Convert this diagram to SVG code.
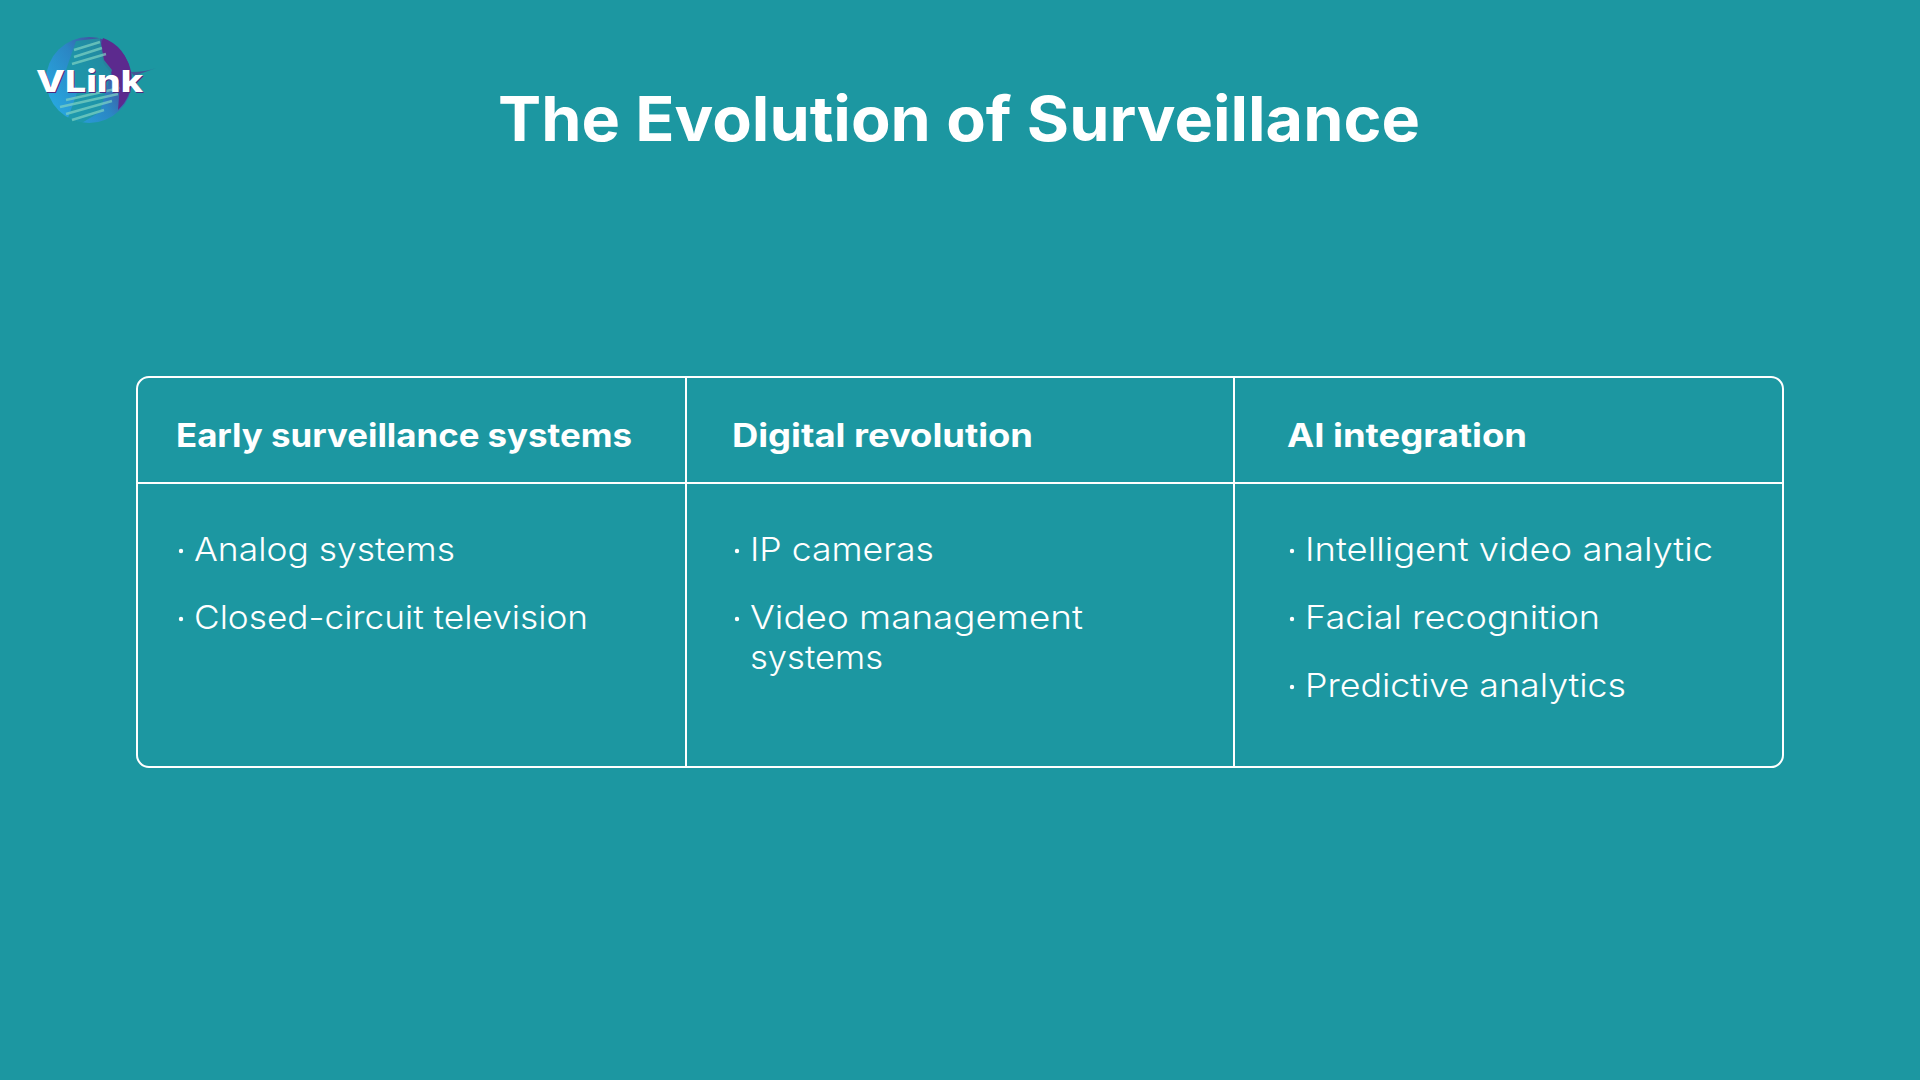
<svg xmlns="http://www.w3.org/2000/svg" width="1920" height="1080" viewBox="0 0 1920 1080">
<style>
.h{font:700 32px Inter,"Noto Sans",sans-serif;fill:#fff}
.b{font:300 33px Inter,Lato,sans-serif;fill:#fff;font-variant-ligatures:none}
.d{fill:#fff}
.l{stroke:#fff;stroke-width:2;fill:none}
</style>
<defs>
<linearGradient id="g" x1="0.05" y1="0.8" x2="0.95" y2="0.2"><stop offset="0" stop-color="#27a8e0"/><stop offset="0.5" stop-color="#2b86c4"/><stop offset="0.8" stop-color="#45509f"/><stop offset="1" stop-color="#5b2a8c"/></linearGradient>
</defs>
<rect width="1920" height="1080" fill="#1c97a1"/>
<g id="logo">
<circle cx="89" cy="80" r="43" fill="url(#g)"/>
<path d="M102 38L108 58L96 62L92 96L70 121Q84 125 100 120L124 100Q132 88 130 72Q124 46 102 38Z" fill="#1c97a1" opacity="0"/>
<path d="M103 38Q126 46 131 74Q133 96 118 110L120 84L104 64Q98 50 103 38Z" fill="#5c2a8e"/>
<path d="M76 41L100 38L104 60L112 70L100 112L80 124L68 118L78 90L66 70Z" fill="#1c97a1" opacity="0.8"/>
<g stroke="#7fd3c3" stroke-width="2.5" opacity="0.7">
<path d="M74 50L100 42M74 57L102 48M72 64L106 54M66 100L120 88M60 107L118 94M66 114L112 101M72 120L104 110"/>
</g>
<path d="M131 72Q146 72 156 68L134 76Z" fill="#5c2a8e" opacity="0.6"/>
<text x="37" y="93" font-family="Inter,sans-serif" font-weight="800" font-size="30" fill="#4a2a80" textLength="107" lengthAdjust="spacingAndGlyphs">VLink</text>
<text x="36" y="92" font-family="Inter,sans-serif" font-weight="800" font-size="30" fill="#fff" textLength="107" lengthAdjust="spacingAndGlyphs">VLink</text>
</g>
<g id="title"><text x="498" y="141" font-family="Inter,sans-serif" font-weight="700" font-size="62" fill="#fff" textLength="922" lengthAdjust="spacingAndGlyphs">The Evolution of Surveillance</text></g>
<g id="table">
<rect class="l" x="137" y="377" width="1646" height="390" rx="12"/>
<path class="l" d="M137 483H1783M686 377V767M1234 377V767"/>
</g>
<g id="col1">
<text class="h" x="176" y="447" textLength="456" lengthAdjust="spacingAndGlyphs">Early surveillance systems</text>
<circle class="d" cx="181" cy="551" r="2.2"/><text class="b" x="194" y="561" textLength="261" lengthAdjust="spacingAndGlyphs">Analog systems</text>
<circle class="d" cx="181" cy="619" r="2.2"/><text class="b" x="194" y="629" textLength="394" lengthAdjust="spacingAndGlyphs">Closed-circuit television</text>
</g>
<g id="col2">
<text class="h" x="732" y="447" textLength="301" lengthAdjust="spacingAndGlyphs">Digital revolution</text>
<circle class="d" cx="737" cy="551" r="2.2"/><text class="b" x="750" y="561" textLength="184" lengthAdjust="spacingAndGlyphs">IP cameras</text>
<circle class="d" cx="737" cy="619" r="2.2"/><text class="b" x="750" y="629" textLength="333" lengthAdjust="spacingAndGlyphs">Video management</text>
<text class="b" x="750" y="669" textLength="133" lengthAdjust="spacingAndGlyphs">systems</text>
</g>
<g id="col3">
<text class="h" x="1287" y="447" textLength="240" lengthAdjust="spacingAndGlyphs">AI integration</text>
<circle class="d" cx="1292" cy="551" r="2.2"/><text class="b" x="1305" y="561" textLength="408" lengthAdjust="spacingAndGlyphs">Intelligent video analytic</text>
<circle class="d" cx="1292" cy="619" r="2.2"/><text class="b" x="1305" y="629" textLength="295" lengthAdjust="spacingAndGlyphs">Facial recognition</text>
<circle class="d" cx="1292" cy="687" r="2.2"/><text class="b" x="1305" y="697" textLength="321" lengthAdjust="spacingAndGlyphs">Predictive analytics</text>
</g>
</svg>
